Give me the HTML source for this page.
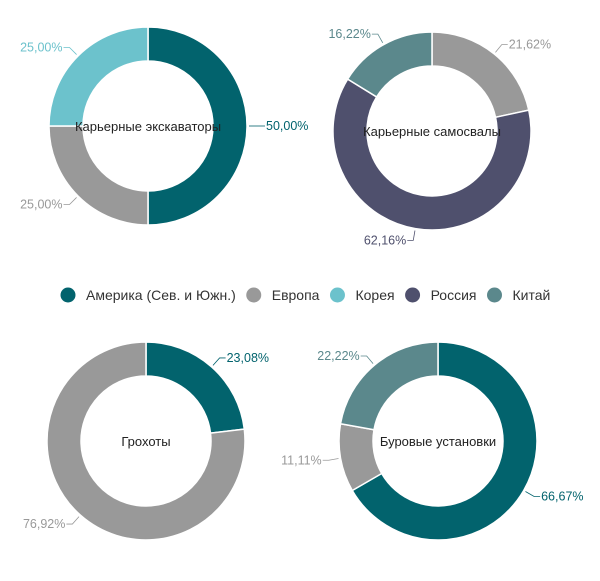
<!DOCTYPE html>
<html><head><meta charset="utf-8"><style>
body{margin:0;background:#fff;width:600px;height:576px;overflow:hidden}
svg{font-family:"Liberation Sans Narrow","Liberation Sans",sans-serif}
</style></head><body>
<svg id="c" width="600" height="576"></svg>
<script>
const seriesNames=["Америка (Сев. и Южн.)","Европа","Корея","Россия","Китай"];
const seriesColors=["#02636d","#999999","#6cc2cc","#4f506d","#5b888c"];
const chartTitles=["Карьерные экскаваторы","Карьерные самосвалы","Грохоты","Буровые установки"];
const chart1Series=[0,1,2];const chart1Values=[50.00,25.00,25.00];
const chart2Series=[1,3,4];const chart2Values=[21.62,62.16,16.22];
const chart3Series=[0,1];const chart3Values=[23.08,76.92];
const chart4Series=[0,1,4];const chart4Values=[66.67,11.11,22.22];
const NS="http://www.w3.org/2000/svg";
const svg=document.getElementById('c');
function mk(t,a,p){const e=document.createElementNS(NS,t);for(const k in a)e.setAttribute(k,a[k]);(p||svg).appendChild(e);return e;}
const layout=[[148,126],[432,131],[146,441],[438,441]];
const R=99,RI=65;
function pt(cx,cy,r,a){return [cx+r*Math.sin(a),cy-r*Math.cos(a)];}
function donut(i,ser,vals){
  const [cx,cy]=layout[i];
  const g=mk('g',{});
  
  
  const tot=vals.reduce((a,b)=>a+b,0);let a0=0;
  vals.forEach((v,j)=>{
    const a1=a0+v/tot*2*Math.PI;const large=(a1-a0)>Math.PI?1:0;
    const p1=pt(cx,cy,R,a0),p2=pt(cx,cy,R,a1),p3=pt(cx,cy,RI,a1),p4=pt(cx,cy,RI,a0);
    const col=seriesColors[ser[j]];
    const s=mk('path',{d:`M${p1}A${R},${R} 0 ${large} 1 ${p2}L${p3}A${RI},${RI} 0 ${large} 0 ${p4}Z`,fill:col,stroke:'#fff','stroke-width':1.5},g);
    
    
    const m=(a0+a1)/2;const q1=pt(cx,cy,R+2,m),q2=pt(cx,cy,R+12,m);
    const right=Math.sin(m)>=0;const ex=q2[0]+(right?6:-6);
    const l=mk('polyline',{points:`${q1} ${q2} ${ex},${q2[1]}`,fill:'none',stroke:col,'stroke-width':0.8},g);
    
    
    const t=mk('text',{x:ex+(right?1:-1),y:q2[1]+4,'text-anchor':right?'start':'end','font-size':12.5,fill:col},g);
    
    
    t.textContent=v.toFixed(2).replace('.',',')+'%';
    a0=a1;
  });
  const tt=mk('text',{x:cx,y:cy+5,'text-anchor':'middle','font-size':13,fill:'#222'},g);
  
  
  tt.textContent=chartTitles[i];
}
donut(0,chart1Series,chart1Values);
donut(1,chart2Series,chart2Values);
donut(2,chart3Series,chart3Values);
donut(3,chart4Series,chart4Values);
const lg=mk('g',{});


const ctx=document.createElement('canvas').getContext('2d');ctx.font='14px "Liberation Sans Narrow","Liberation Sans",sans-serif';
let x=68;
seriesNames.forEach((n,k)=>{
  const e=mk('g',{},lg);
  
  
  mk('circle',{cx:x,cy:295,r:7.5,fill:seriesColors[k]},e);
  const t=mk('text',{x:x+18,y:300,'font-size':14,fill:'#333'},e);t.textContent=n;
  x+=18+t.getComputedTextLength()+18;
});
</script>
</body></html>
